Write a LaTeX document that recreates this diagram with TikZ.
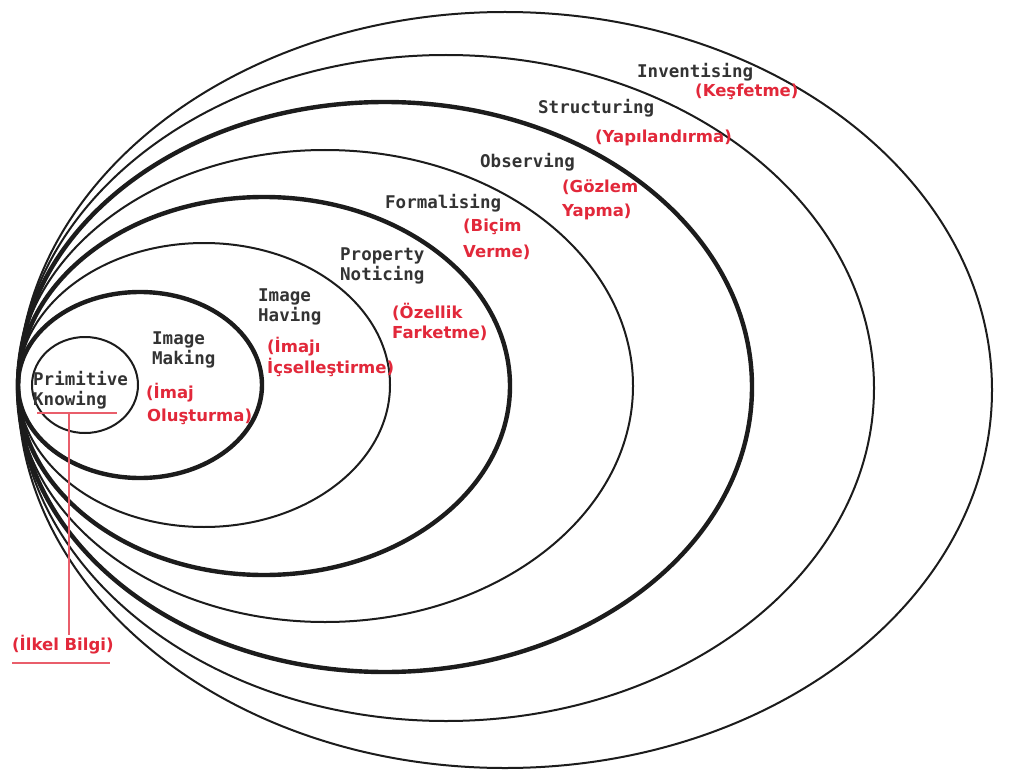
\documentclass[tikz,border=0pt]{standalone}
\usepackage{fontspec}
\newfontfamily\stagefont{DejaVu Sans Mono}
\newfontfamily\labelfont{DejaVu Sans}
\definecolor{ink}{RGB}{28,28,28}
\definecolor{trred}{RGB}{226,40,58}

\begin{document}
\begin{tikzpicture}[x=1pt,y=-1pt,
  thinring/.style={draw=ink, line width=2pt},
  thickring/.style={draw=ink, line width=4.4pt},
  stage/.style={font=\stagefont\bfseries\fontsize{17.5}{20.5}\selectfont, text=ink!90,
                anchor=west, inner sep=0pt, align=left},
  trlabel/.style={font=\labelfont\bfseries\fontsize{16.5}{20}\selectfont,
                  text=trred, anchor=west, inner sep=0pt},
  guide/.style={draw=trred!75, line width=1.2pt}]

\useasboundingbox (0,0) rectangle (1014,778);
\fill[white] (0,0) rectangle (1014,778);

% nested layers, all touching on the left
\draw[thinring]  (505,390) ellipse [x radius=487, y radius=378]; % inventising
\draw[thinring]  (446,388) ellipse [x radius=428, y radius=333]; % structuring
\draw[thickring] (385,387) ellipse [x radius=367, y radius=285]; % observing
\draw[thinring]  (325,386) ellipse [x radius=308, y radius=236]; % formalising
\draw[thickring] (264,386) ellipse [x radius=246, y radius=189]; % property noticing
\draw[thinring]  (204,385) ellipse [x radius=186, y radius=142]; % image having
\draw[thickring] (140,385) ellipse [x radius=122, y radius=93];  % image making
\draw[thinring]  (85,385)  ellipse [x radius=53,  y radius=48];  % primitive knowing

% layer names
\node[stage] (pk)  at (33,390)  {Primitive\\Knowing};
\node[stage] (im)  at (152,350) {Image\\Making};
\node[stage] (ih)  at (258,307) {Image\\Having};
\node[stage] (pn)  at (340,266) {Property\\Noticing};
\node[stage] (fo)  at (385,203) {Formalising};
\node[stage] (ob)  at (480,162) {Observing};
\node[stage] (st)  at (538,108) {Structuring};
\node[stage] (inv) at (637,72)  {Inventising};

% Turkish translations
\node[trlabel] (im1) at (146,393) {(İmaj};
\node[trlabel] (im2) at (147,417) {Oluşturma)};
\node[trlabel] (ih1) at (267,347) {(İmajı};
\node[trlabel] (ih2) at (267,367) {İçselleştirme)};
\node[trlabel] (pn1) at (392,312) {(Özellik};
\node[trlabel] (pn2) at (392,333) {Farketme)};
\node[trlabel] (fo1) at (463,227) {(Biçim};
\node[trlabel] (fo2) at (463,252) {Verme)};
\node[trlabel] (ob1) at (562,187) {(Gözlem};
\node[trlabel] (ob2) at (562,212) {Yapma)};
\node[trlabel] (st1) at (595,138) {(Yapılandırma)};
\node[trlabel] (in1) at (695,92)  {(Keşfetme)};
\node[trlabel] (ilk) at (12,645)  {(İlkel Bilgi)};

% pointer from the innermost layer to its translation
\coordinate (ulL) at (37,413);
\coordinate (ulR) at (117,413);
\coordinate (ulM) at (69,413);
\coordinate (ilkL) at (12,663);
\coordinate (ilkR) at (110,663);
\draw[guide] (ulL) -- (ulR);
\draw[guide] (ulM) -- (ulM |- ilk.north);
\draw[guide] (ilkL) -- (ilkR);
\end{tikzpicture}
\end{document}
